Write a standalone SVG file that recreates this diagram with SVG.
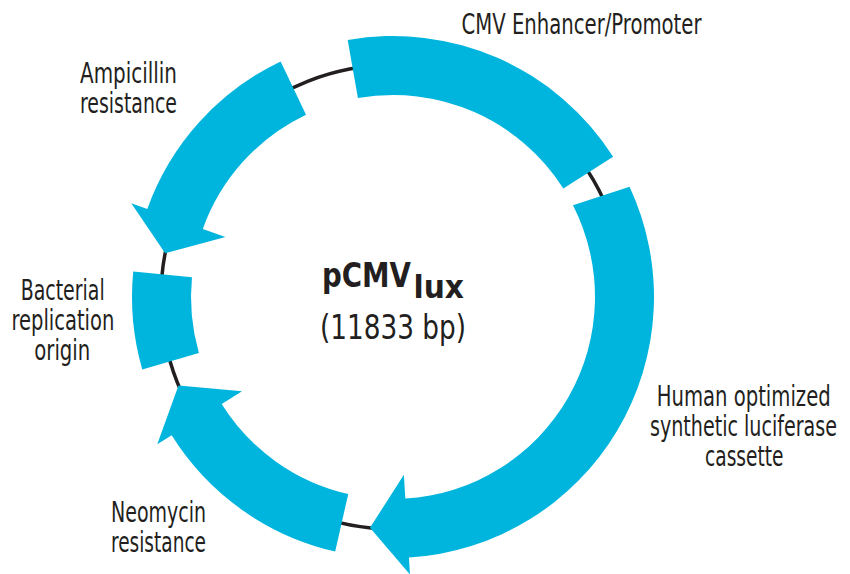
<svg xmlns="http://www.w3.org/2000/svg" width="850" height="574" viewBox="0 0 850 574">
<style>
.seg{fill:#00b5dd;stroke:none}
.bb{fill:none;stroke:#231f20;stroke-width:3.5}
.lbl{font-family:"Liberation Sans Narrow","DejaVu Sans Condensed","Liberation Sans",sans-serif;font-size:28px;fill:#231f20}
.ttl{font-family:"Liberation Sans Narrow","DejaVu Sans Condensed","Liberation Sans",sans-serif;fill:#231f20}
</style>
<rect width="850" height="574" fill="#ffffff"/>
<g id="connectors">
<circle class="bb" cx="393" cy="297" r="232"/>
</g>
<g id="cmv">
<path class="seg" d="M347.68,39.97 A261,261 0 0 1 613.12,156.76 L563.36,188.47 A202,202 0 0 0 357.92,98.07 Z"/>
<text class="lbl" x="461.5" y="34" textLength="240" lengthAdjust="spacingAndGlyphs">CMV Enhancer/Promoter</text>
</g>
<g id="luciferase">
<path class="seg" d="M629.55,186.70 A261,261 0 0 1 408.93,557.51 L409.97,574.48 L369.96,527.85 L403.87,474.67 L405.33,498.62 A202,202 0 0 0 572.98,205.29 Z"/>
<text class="lbl" transform="translate(656.7 406) scale(0.75 1)" x="0" y="0" textLength="232" lengthAdjust="spacingAndGlyphs">Human optimized</text>
<text class="lbl" transform="translate(650 436) scale(0.75 1)" x="0" y="0" textLength="249.3" lengthAdjust="spacingAndGlyphs">synthetic luciferase</text>
<text class="lbl" transform="translate(705 466) scale(0.75 1)" x="0" y="0" textLength="104.7" lengthAdjust="spacingAndGlyphs">cassette</text>
</g>
<g id="neomycin">
<path class="seg" d="M335.18,551.51 A261,261 0 0 1 171.66,435.31 L157.24,444.32 L178.50,385.41 L242.05,391.33 L221.69,404.04 A202,202 0 0 0 348.25,493.98 Z"/>
<text class="lbl" x="111" y="522" textLength="95" lengthAdjust="spacingAndGlyphs">Neomycin</text>
<text class="lbl" x="111" y="552" textLength="95" lengthAdjust="spacingAndGlyphs">resistance</text>
</g>
<g id="origin">
<path class="seg" d="M142.24,369.38 A261,261 0 0 1 133.25,271.53 L191.96,277.29 A202,202 0 0 0 198.92,353.02 Z"/>
<text class="lbl" x="20.7" y="300" textLength="84" lengthAdjust="spacingAndGlyphs">Bacterial</text>
<text class="lbl" x="11.4" y="330" textLength="103" lengthAdjust="spacingAndGlyphs">replication</text>
<text class="lbl" x="34.3" y="360" textLength="56" lengthAdjust="spacingAndGlyphs">origin</text>
</g>
<g id="ampicillin">
<path class="seg" d="M280.64,61.42 A261,261 0 0 0 147.28,209.02 L131.27,203.29 L165.19,253.13 L225.42,237.00 L202.82,228.91 A202,202 0 0 1 306.04,114.68 Z"/>
<text class="lbl" x="80" y="83" textLength="97" lengthAdjust="spacingAndGlyphs">Ampicillin</text>
<text class="lbl" x="80" y="113" textLength="97" lengthAdjust="spacingAndGlyphs">resistance</text>
</g>
<g id="title">
<text class="ttl" x="322" y="287" font-size="33" font-weight="bold" textLength="89" lengthAdjust="spacingAndGlyphs">pCMV</text>
<text class="ttl" x="413.5" y="298" font-size="32" font-weight="bold" textLength="50.5" lengthAdjust="spacingAndGlyphs">lux</text>
<text class="ttl" x="320" y="339" font-size="33" textLength="146" lengthAdjust="spacingAndGlyphs">(11833 bp)</text>
</g>
</svg>
